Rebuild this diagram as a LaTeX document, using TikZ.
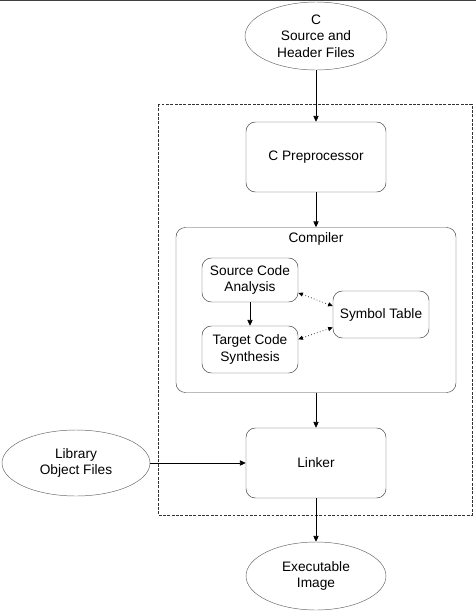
\documentclass[tikz,border=0pt]{standalone}
\usepackage{fontspec}
\setmainfont{Liberation Sans}
\usetikzlibrary{shapes.geometric,arrows.meta}

\begin{document}
\begin{tikzpicture}[x=0.03cm,y=-0.03cm,
	every node/.style={font=\fontsize{11.7}{14.2}\selectfont,align=center},
	datafile/.style={ellipse,draw=black!60,thin,inner sep=0pt},
	stagebox/.style={rectangle,rounded corners=8pt,draw=black!75,thin,inner sep=0pt},
	flow/.style={-{Triangle[length=5pt,width=4.5pt]},line width=0.6pt},
	lookup/.style={{Triangle[length=4pt,width=3.5pt]}-{Triangle[length=4pt,width=3.5pt]},dotted,line width=0.6pt}]
	\useasboundingbox (0,0) rectangle (476,613);
	\draw[black!75,line width=1pt] (0,0.6) -- (476,0.6);
	% toolchain frame
	\draw[dash pattern=on 2.5pt off 1.2pt,black!80,thin] (158,104) rectangle (472,515);
	\node[datafile,minimum width=4.26cm,minimum height=2.04cm] (src) at (316,36) {C\\Source and\\Header Files};
	\node[stagebox,minimum width=4.2cm,minimum height=2.1cm] (pre) at (316,157) {C Preprocessor};
	\node[stagebox,minimum width=8.4cm,minimum height=4.95cm] (comp) at (316,310) {};
	\node (complabel) at (316,239) {Compiler};
	\node[stagebox,minimum width=2.88cm,minimum height=1.32cm] (sca) at (250,280) {Source Code\\Analysis};
	\node[stagebox,minimum width=2.88cm,minimum height=1.41cm] (tcs) at (250,349.5) {Target Code\\Synthesis};
	\node[stagebox,minimum width=2.88cm,minimum height=1.41cm] (sym) at (381,314.5) {Symbol Table};
	\node[stagebox,minimum width=4.2cm,minimum height=2.1cm] (lnk) at (316,463) {Linker};
	\node[datafile,minimum width=4.44cm,minimum height=1.98cm] (lib) at (76,463) {Library\\Object Files};
	\node[datafile,minimum width=4.2cm,minimum height=2.04cm] (exe) at (316,576) {Executable\\Image};
	% connections
	\draw[flow] (src) -- (pre);
	\draw[flow] (pre) -- (comp);
	\draw[flow] (sca) -- (tcs);
	\draw[lookup] (sca.-15) -- (sym.170);
	\draw[lookup] (tcs.12) -- (sym.195);
	\draw[flow] (comp) -- (lnk);
	\draw[flow] (lib.east) -- (lnk.west);
	\draw[flow] (lnk) -- (exe);
\end{tikzpicture}
\end{document}
